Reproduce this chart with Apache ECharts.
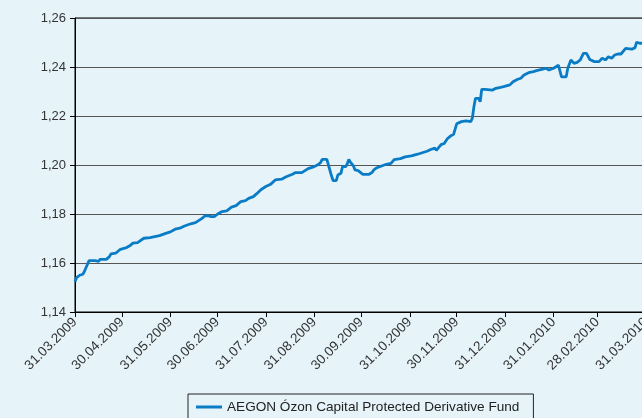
<!DOCTYPE html>
<html>
<head>
<meta charset="utf-8">
<script src="https://cdn.jsdelivr.net/npm/echarts@6/dist/echarts.min.js"></script>
<style>
html,body{margin:0;padding:0;background:#e6f4fa;}
#c{width:642px;height:418px;}
</style>
</head>
<body>
<div id="c"></div>
<script>
// Days since 31.03.2009
var dayOffset = [0,1,3,5,6,7,9,13,15,16,20,22,23,26,29,33,35,37,40,44,48,51,54,58,61,
64,67,70,74,77,79,81,83,85,87,89,91,94,97,100,103,106,109,111,114,116,119,122,
125,128,132,135,139,141,145,146,149,152,155,157,158,161,162,163,164,165,167,168,170,171,173,174,175,176,177,178,179,181,
182,184,188,190,191,193,196,199,202,204,208,211,215,219,222,225,227,230,231,234,236,238,240,
242,244,245,247,250,253,254,255,256,258,259,260,262,263,267,269,272,274,278,280,283,285,287,290,293,295,296,299,301,303,
306,309,310,311,314,315,317,319,321,323,325,327,329,332,335,337,339,341,343,345,347,349,352,356,358,359,361,365];
// Fund unit price
var navValues = [1.1524,1.154,1.155,1.1554,1.1565,1.157,1.161,1.161,1.1606,1.1615,1.1615,1.1626,1.1637,1.164,1.1656,1.1663,1.167,1.1681,1.1683,1.1701,1.1704,1.1708,1.1712,1.1721,1.1727,
1.1738,1.1742,1.1751,1.176,1.1765,1.1773,1.1781,1.1792,1.1793,1.1789,1.1789,1.1799,1.181,1.1813,1.1828,1.1834,1.1851,1.1855,1.1864,1.1871,1.1882,1.19,1.1912,
1.1921,1.1939,1.1942,1.1952,1.1962,1.1969,1.1969,1.1977,1.1985,1.1991,1.2,1.201,1.2023,1.2023,1.2,1.1993,1.1955,1.1936,1.1936,1.1959,1.1966,1.1993,1.1993,1.2004,1.2023,1.2012,1.2012,1.1996,1.198,1.1977,
1.1972,1.1962,1.1962,1.197,1.198,1.1989,1.1996,1.2003,1.2007,1.2022,1.2026,1.2033,1.2037,1.2044,1.205,1.2056,1.2062,1.2069,1.206,1.2083,1.2088,1.2107,1.2118,
1.2125,1.2168,1.2173,1.2177,1.218,1.2177,1.2191,1.2238,1.2272,1.2272,1.2258,1.2309,1.2309,1.2303,1.2306,1.2313,1.2317,1.232,1.2327,1.234,1.235,1.2354,1.2367,1.2377,1.2381,1.2385,1.2385,1.2391,1.2395,1.2388,
1.2395,1.2408,1.2401,1.236,1.236,1.2395,1.2429,1.2415,1.2419,1.2429,1.2456,1.2456,1.2431,1.2422,1.2422,1.2436,1.2429,1.2442,1.2436,1.2449,1.2453,1.2453,1.2476,1.2473,1.2479,1.2501,1.2497,1.2497];
var tickLabels = ['31.03.2009','30.04.2009','31.05.2009','30.06.2009','31.07.2009','31.08.2009','30.09.2009',
'31.10.2009','30.11.2009','31.12.2009','31.01.2010','28.02.2010','31.03.2010'];
var seriesName = 'AEGON Ózon Capital Protected Derivative Fund';
var yMin = 1.14, yMax = 1.26, yStep = 0.02;

function parseD(s){var p=s.split('.');return Date.UTC(+p[2],+p[1]-1,+p[0]);}
var DAY = 86400000;
var start = parseD(tickLabels[0]);
var tickDays = tickLabels.map(function(s){return Math.round((parseD(s)-start)/DAY);});
var labelByDay = {};
tickDays.forEach(function(d,i){labelByDay[d]=tickLabels[i];});
var data = dayOffset.map(function(d,i){return [d, navValues[i]];});

var chart = echarts.init(document.getElementById('c'), null, {renderer:'canvas'});
var font = 'Liberation Sans';
chart.setOption({
  backgroundColor:'#e6f4fa',
  animation:false,
  grid:{left:75, top:18, right:-4, bottom:106, outerBoundsMode:'none', containLabel:false,
    show:true, borderColor:'#000', borderWidth:1, backgroundColor:'transparent'},
  xAxis:{
    type:'value', min:tickDays[0], max:tickDays[tickDays.length-1],
    axisLine:{show:true, lineStyle:{color:'#000', width:1}},
    axisTick:{show:true, customValues:tickDays, length:5, lineStyle:{color:'#000'}},
    axisLabel:{customValues:tickDays, rotate:45, margin:8, color:'#333', fontFamily:font, fontSize:13.5,
      formatter:function(v){return labelByDay[Math.round(v)] || '';}},
    splitLine:{show:false}
  },
  yAxis:{
    type:'value', min:yMin, max:yMax, interval:yStep,
    axisLine:{show:true, lineStyle:{color:'#000', width:1}},
    axisTick:{show:true, length:5, lineStyle:{color:'#000'}},
    axisLabel:{margin:9, color:'#333', fontFamily:font, fontSize:13,
      formatter:function(v){return v.toFixed(2).replace('.',',');}},
    splitLine:{show:true, lineStyle:{color:'#555', width:1}}
  },
  legend:{
    left:188, top:394, orient:'horizontal',
    borderColor:'#222', borderWidth:1, padding:[6,14,8,8],
    icon:'rect', itemWidth:26, itemHeight:3, itemGap:4,
    textStyle:{color:'#222', fontFamily:font, fontSize:13.6},
    data:[seriesName]
  },
  series:[{
    name:seriesName, type:'line', data:data, showSymbol:false, symbol:'none',
    lineStyle:{color:'#0a7cc6', width:2.8}, itemStyle:{color:'#0a7cc6'}
  }]
});
</script>
</body>
</html>
